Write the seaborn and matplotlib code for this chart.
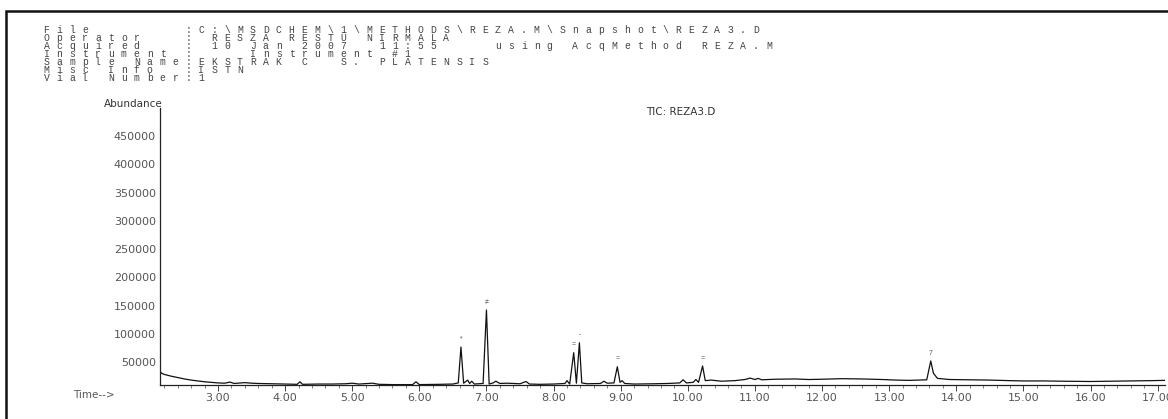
import matplotlib
matplotlib.use("Agg")
import matplotlib.pyplot as plt
import seaborn as sns
import pandas as pd
from matplotlib.patches import Rectangle
from matplotlib.ticker import MultipleLocator

# ---------------- data ----------------
header_lines = [
    "File       :C:\\MSDCHEM\\1\\METHODS\\REZA.M\\Snapshot\\REZA3.D",
    "Operator   : RESZA RESTU NIRMALA",
    "Acquired   : 10 Jan 2007  11:55    using AcqMethod REZA.M",
    "Instrument :    Instrument #1",
    "Sample Name:EKSTRAK C  S. PLATENSIS",
    "Misc Info  :ISTN",
    "Vial Number:1",
]

time_min = [2.14, 2.16, 2.2, 2.3, 2.4, 2.5, 2.6, 2.7, 2.8, 2.9, 3.0, 3.1, 3.18, 3.24,
            3.4, 3.5, 3.6, 3.8, 4.0, 4.18, 4.22, 4.26, 4.5, 4.7, 4.9, 5.0, 5.1, 5.3,
            5.4, 5.6, 5.9, 5.95, 6.0, 6.3, 6.5, 6.58, 6.62, 6.66, 6.72, 6.75, 6.78,
            6.82, 6.95, 7.0, 7.04, 7.1, 7.14, 7.2, 7.3, 7.5, 7.59, 7.64, 7.8, 8.0,
            8.17, 8.2, 8.24, 8.3, 8.34, 8.385, 8.42, 8.5, 8.7, 8.75, 8.8, 8.9, 8.95,
            8.99, 9.02, 9.06, 9.2, 9.5, 9.7, 9.88, 9.93, 9.98, 10.08, 10.12, 10.16,
            10.22, 10.26, 10.35, 10.5, 10.7, 10.85, 10.93, 11.0, 11.05, 11.1, 11.3,
            11.6, 11.8, 12.0, 12.3, 12.6, 12.9, 13.1, 13.3, 13.56, 13.62, 13.66,
            13.72, 13.9, 14.2, 14.5, 14.8, 15.0, 15.3, 15.6, 16.0, 16.3, 16.6, 16.9,
            17.11]
abundance = [33000, 30000, 28000, 25000, 22500, 20000, 18000, 16500, 15000, 14000,
             13000, 12500, 14500, 12000, 13500, 12500, 12000, 11500, 11000, 10500,
             15000, 10500, 11000, 11000, 11500, 12500, 11000, 12500, 10500, 10000,
             10000, 15000, 10000, 10500, 11000, 13000, 76500, 12500, 18000, 12000,
             16000, 11000, 12000, 142000, 11000, 13000, 16000, 12000, 12500, 11500,
             15500, 11000, 10500, 11000, 12000, 17000, 11000, 66500, 12500, 84000,
             13000, 11500, 12000, 16000, 12500, 13000, 41700, 14000, 17000, 12000,
             11000, 11500, 12000, 13000, 18500, 13000, 14000, 19000, 14000, 43000,
             17000, 18000, 16000, 17000, 19000, 21500, 19000, 21000, 18500, 19500,
             20000, 19000, 19500, 20500, 20000, 19000, 18000, 17500, 18500, 51800,
             30000, 21000, 19000, 18500, 18000, 17000, 16500, 16500, 16000, 15500,
             16000, 16500, 17000, 17500]

peak_times = [6.62, 7.0, 8.3, 8.385, 8.95, 10.22, 13.62]
peak_heights = [76500, 142000, 66500, 84000, 41700, 43000, 51800]
peak_marks = ["*", "\u2260", "=", "-", "=", "=", "7"]

y_ticks = [50000, 100000, 150000, 200000, 250000, 300000, 350000, 400000, 450000]
x_ticks = [3, 4, 5, 6, 7, 8, 9, 10, 11, 12, 13, 14, 15, 16, 17]

# ---------------- figure ----------------
sns.set_theme(style="white")
plt.rcParams["font.family"] = ["Liberation Sans", "DejaVu Sans"]

W, H = 1168, 419
fig = plt.figure(figsize=(W / 100, H / 100), dpi=100)

def fx(px):
    return px / W

def fy(py):
    return 1 - py / H

ax = fig.add_axes([fx(160), fy(385), fx(1165) - fx(160), fy(108) - fy(385)])

df = pd.DataFrame({"time": time_min, "abundance": abundance})
sns.lineplot(data=df, x="time", y="abundance", ax=ax, color="#111111",
             linewidth=0.9, estimator=None)

ax.set_xlim(2.136, 17.11)
ax.set_ylim(9300, 499600)
ax.set_xlabel("")
ax.set_ylabel("")

for s in ["top", "right"]:
    ax.spines[s].set_visible(False)
for s in ["left", "bottom"]:
    ax.spines[s].set_color("#222222")
    ax.spines[s].set_linewidth(0.9)

ax.set_yticks(y_ticks)
ax.set_yticklabels([str(v) for v in y_ticks])
ax.set_xticks(x_ticks)
ax.set_xticklabels([f"{v:.2f}" for v in x_ticks])
ax.xaxis.set_minor_locator(MultipleLocator(0.2))
ax.tick_params(axis="y", length=0, pad=3, labelsize=8, labelcolor="#555555")
ax.tick_params(axis="x", which="major", direction="out", length=4, width=0.7,
               color="#444444", pad=2, labelsize=8, labelcolor="#555555", bottom=True)
ax.tick_params(axis="x", which="minor", direction="out", length=2, width=0.6,
               color="#666666", bottom=True)
for lab in ax.get_xticklabels() + ax.get_yticklabels():
    lab.set_fontfamily(["DejaVu Sans"])
ax.patch.set_alpha(0)

# peak marks
for t, h, m in zip(peak_times, peak_heights, peak_marks):
    ax.annotate(m, (t, h), xytext=(0, 3), textcoords="offset points",
                ha="center", va="bottom", fontsize=5, color="#555555")

# axis titles
fig.text(fx(163), fy(104), "Abundance", ha="right", va="center", fontsize=7.5,
         color="#333333", family=["DejaVu Sans"])
fig.text(fx(73), fy(395), "Time-->", ha="left", va="center", fontsize=7.5,
         color="#555555", family=["DejaVu Sans"])
fig.text(fx(681), fy(112), "TIC: REZA3.D", ha="center", va="center", fontsize=7.5,
         color="#333333", family=["DejaVu Sans"])

# header block (monospaced, wide cells like the printed report)
x0, adv, y0, dy = 40, 12.9, 30, 8.0
for i, line in enumerate(header_lines):
    for j, ch in enumerate(line):
        if ch == " ":
            continue
        fig.text(fx(x0 + j * adv + adv / 2), fy(y0 + i * dy), ch, ha="center",
                 va="center", fontsize=7, color="#444444",
                 family=["Liberation Mono", "DejaVu Sans Mono"])

# outer frame
fig.add_artist(Rectangle((fx(6), fy(420)), fx(1170) - fx(6), fy(11) - fy(420),
                         transform=fig.transFigure, fill=False,
                         edgecolor="#111111", linewidth=1.8))

fig.savefig("out.png", dpi=100)
